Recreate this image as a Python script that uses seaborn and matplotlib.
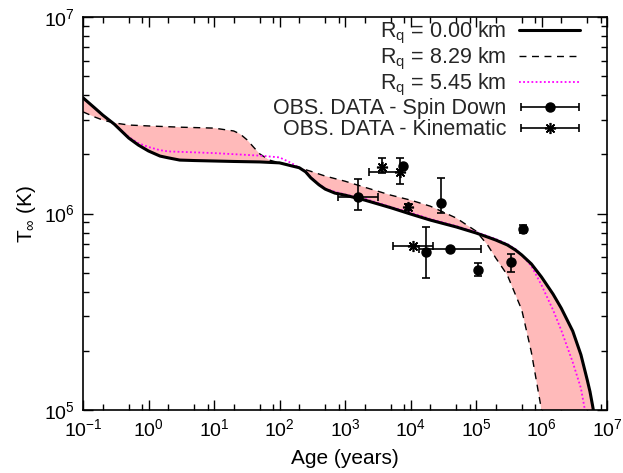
import numpy as np
import pandas as pd
import matplotlib
matplotlib.use("Agg")
import matplotlib.pyplot as plt
from matplotlib.container import ErrorbarContainer
from matplotlib.legend_handler import HandlerErrorbar
import seaborn as sns

# Cooling curves: stellar age (years) vs surface temperature at infinity (K)
age_r0 = [0.1, 0.15, 0.2, 0.3, 0.5, 0.7, 1, 1.5, 2, 3, 5, 10, 20, 50, 100, 150,
          200, 250, 300, 400, 500, 700, 1e3, 2e3, 5e3, 1e4, 2e4, 5e4, 1e5,
          1.5e5, 2e5, 3e5, 4e5, 5e5, 7e5, 1e6, 1.5e6, 2e6, 3e6, 4e6, 5e6,
          5.5e6, 6e6, 6.5e6]
T_r0 = [3.88e6, 3.45e6, 3.17e6, 2.85e6, 2.42e6, 2.23e6, 2.08e6, 1.96e6, 1.92e6,
        1.87e6, 1.86e6, 1.85e6, 1.84e6, 1.83e6, 1.81e6, 1.75e6, 1.71e6, 1.63e6,
        1.52e6, 1.40e6, 1.33e6, 1.27e6, 1.24e6, 1.17e6, 1.07e6, 9.94e5,
        9.26e5, 8.54e5, 7.96e5, 7.59e5, 7.33e5, 6.92e5, 6.52e5, 6.15e5,
        5.54e5, 4.75e5, 3.89e5, 3.30e5, 2.52e5, 1.91e5, 1.42e5, 1.24e5,
        1.06e5, 9.1e4]

age_r829 = [0.1, 0.15, 0.2, 0.3, 0.5, 1, 3, 10, 20, 25, 32, 40, 50, 70, 100,
            150, 200, 300, 500, 1e3, 2e3, 5e3, 1e4, 2e4, 5e4, 1e5, 1.5e5, 2e5,
            3e5, 5e5, 7e5, 1e6, 1.3e6]
T_r829 = [3.29e6, 3.10e6, 2.99e6, 2.89e6, 2.82e6, 2.79e6, 2.75e6, 2.72e6,
          2.63e6, 2.54e6, 2.37e6, 2.18e6, 2.01e6, 1.87e6, 1.81e6, 1.76e6,
          1.71e6, 1.64e6, 1.55e6, 1.46e6, 1.36e6, 1.24e6, 1.17e6, 1.09e6,
          9.48e5, 8.14e5, 6.92e5, 5.94e5, 4.87e5, 3.23e5, 1.97e5, 1.0e5, 6.0e4]

age_r545 = [0.1, 0.15, 0.2, 0.3, 0.5, 0.7, 1, 1.5, 2, 3, 10, 50, 100, 150, 200,
            250, 300, 400, 500, 700, 1e3, 2e3, 5e3, 1e4, 2e4, 5e4, 1e5, 2e5,
            3e5, 4e5, 5e5, 7e5, 1e6, 1.5e6, 2e6, 3e6, 4e6, 4.6e6, 5e6]
T_r545 = [3.88e6, 3.45e6, 3.17e6, 2.85e6, 2.45e6, 2.28e6, 2.18e6, 2.10e6,
          2.07e6, 2.06e6, 2.03e6, 1.97e6, 1.93e6, 1.81e6, 1.71e6, 1.64e6,
          1.53e6, 1.41e6, 1.34e6, 1.29e6, 1.25e6, 1.19e6, 1.08e6, 1.01e6,
          9.38e5, 8.63e5, 8.05e5, 7.42e5, 7.0e5, 6.59e5, 6.15e5, 5.41e5,
          4.32e5, 3.23e5, 2.55e5, 1.75e5, 1.29e5, 1.0e5, 8.9e4]

# Observed pulsars, ages from spin-down
sd_age = [1580, 7800, 29200, 17300, 40100, 107000, 342000, 522000]
sd_T = [1.21e6, 1.75e6, 1.13e6, 6.37e5, 6.59e5, 5.15e5, 5.66e5, 8.34e5]
sd_age_lo = [782, 7800, 29200, 17300, 13500, 107000, 342000, 522000]
sd_age_hi = [3190, 7800, 29200, 17300, 119000, 107000, 342000, 522000]
sd_T_lo = [1.04e6, 1.75e6, 1.01e6, 4.70e5, 6.59e5, 4.81e5, 5.03e5, 8.0e5]
sd_T_hi = [1.50e6, 1.75e6, 1.52e6, 8.53e5, 6.59e5, 5.60e5, 6.22e5, 8.7e5]

# Observed pulsars, kinematic ages
kin_age = [3670, 6900, 9170, 10900]
kin_T = [1.73e6, 1.63e6, 1.08e6, 6.84e5]
kin_age_lo = [3670, 2320, 8500, 5400]
kin_age_hi = [3670, 6900, 9900, 22100]
kin_T_lo = [1.61e6, 1.41e6, 1.04e6, 6.84e5]
kin_T_hi = [1.91e6, 1.91e6, 1.12e6, 6.84e5]

sns.set_theme(style="ticks")
plt.rcParams["font.family"] = ["Liberation Sans", "DejaVu Sans"]
plt.rcParams["mathtext.fontset"] = "custom"
plt.rcParams["mathtext.rm"] = "Liberation Sans"
plt.rcParams["mathtext.it"] = "Liberation Sans"
plt.rcParams["axes.unicode_minus"] = False

fig = plt.figure(figsize=(6.23, 4.73), dpi=100)
ax = fig.add_axes([83 / 623, 1 - 410 / 473, (607 - 83) / 623, (410 - 17) / 473])

# shaded band between the two extreme quark-core radii
ax.fill(np.r_[age_r0, age_r829[::-1]], np.r_[T_r0, T_r829[::-1]],
        color="#ffbaba", lw=0, zorder=1)

df0 = pd.DataFrame({"age": age_r0, "T": T_r0})
df8 = pd.DataFrame({"age": age_r829, "T": T_r829})
df5 = pd.DataFrame({"age": age_r545, "T": T_r545})
sns.lineplot(data=df0, x="age", y="T", sort=False, ax=ax, color="black",
             lw=2.2, label=r"R$_{\rm q}$ = 0.00 km", zorder=4)
sns.lineplot(data=df8, x="age", y="T", sort=False, ax=ax, color="black",
             lw=1.0, dashes=(5, 4), label=r"R$_{\rm q}$ = 8.29 km", zorder=3)
sns.lineplot(data=df5, x="age", y="T", sort=False, ax=ax, color="magenta",
             lw=1.3, dashes=(1, 1.3), label=r"R$_{\rm q}$ = 5.45 km", zorder=3)

sd_xerr = [np.array(sd_age) - np.array(sd_age_lo), np.array(sd_age_hi) - np.array(sd_age)]
sd_yerr = [np.array(sd_T) - np.array(sd_T_lo), np.array(sd_T_hi) - np.array(sd_T)]
eb_sd = ax.errorbar(sd_age, sd_T, xerr=sd_xerr, yerr=sd_yerr, linestyle="none",
                    marker="o", color="black", ms=6.5, capsize=3, elinewidth=1.2,
                    capthick=1.2, zorder=5, label="OBS. DATA - Spin Down")

kin_xerr = [np.array(kin_age) - np.array(kin_age_lo), np.array(kin_age_hi) - np.array(kin_age)]
kin_yerr = [np.array(kin_T) - np.array(kin_T_lo), np.array(kin_T_hi) - np.array(kin_T)]
eb_kin = ax.errorbar(kin_age, kin_T, xerr=kin_xerr, yerr=kin_yerr, linestyle="none",
                     marker=(8, 2, 0), color="black", ms=8, mew=1.2, capsize=3,
                     elinewidth=1.2, capthick=1.2, zorder=5,
                     label="OBS. DATA - Kinematic")
# legend keys show only the horizontal bar
eb_sd.has_yerr = False
eb_kin.has_yerr = False

ax.set_xscale("log")
ax.set_yscale("log")
ax.set_xlim(0.1, 1e7)
ax.set_ylim(1e5, 1e7)
ax.xaxis.set_major_locator(matplotlib.ticker.LogLocator(base=10, numticks=20))
ax.xaxis.set_minor_locator(matplotlib.ticker.LogLocator(base=10, subs=[2, 5, 8], numticks=20))
ax.xaxis.set_minor_formatter(matplotlib.ticker.NullFormatter())
ax.yaxis.set_minor_locator(matplotlib.ticker.LogLocator(base=10, subs=np.arange(2, 10), numticks=20))
ax.yaxis.set_minor_formatter(matplotlib.ticker.NullFormatter())

ax.tick_params(which="both", direction="in", top=True, right=True, color="black",
               width=1.0, labelsize=14, labelcolor="black")
ax.tick_params(which="major", length=7, pad=6)
ax.tick_params(which="minor", length=4)
for s in ax.spines.values():
    s.set_linewidth(1.2)
    s.set_color("black")

ax.set_xlabel("Age (years)", fontsize=15, color="black", labelpad=6)
ax.set_ylabel(r"T$_\infty$ (K)", fontsize=15, color="black", labelpad=4)

leg = ax.legend(loc="upper right", bbox_to_anchor=(0.948, 0.992), markerfirst=False,
                frameon=False, fontsize=15.5, handlelength=2.8, labelspacing=0.0,
                handletextpad=0.6, borderpad=0.0, borderaxespad=0.0,
                handler_map={ErrorbarContainer: HandlerErrorbar(xerr_size=1.35)})

fig.savefig("out.png", dpi=100)
